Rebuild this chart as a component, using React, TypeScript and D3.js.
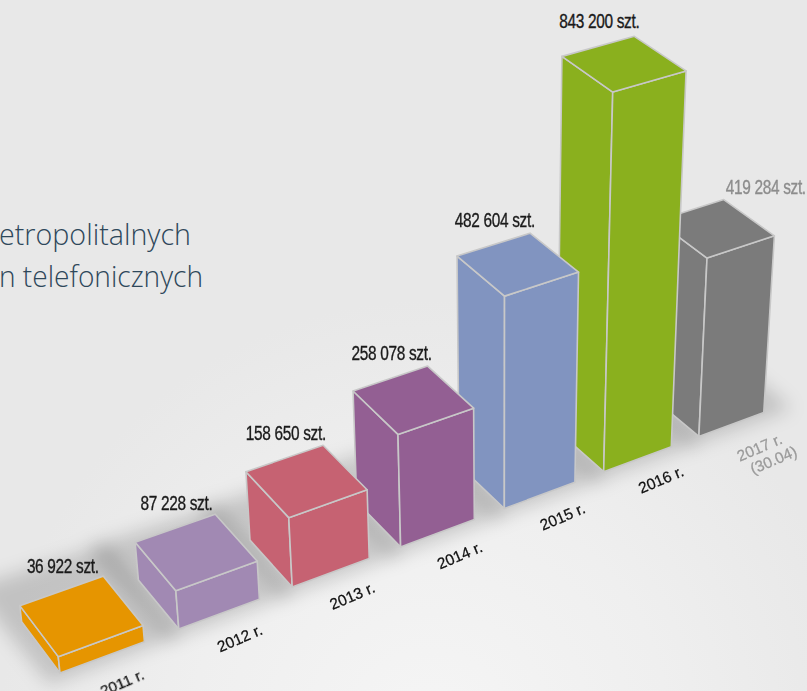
import React from 'react';
import * as d3 from 'd3';

// ---------- data ----------
const years = ['2011 r.', '2012 r.', '2013 r.', '2014 r.', '2015 r.', '2016 r.', '2017 r.'];
const yearSub = ['', '', '', '', '', '', '(30.04)'];
const values = [36922, 87228, 158650, 258078, 482604, 843200, 419284];
const partialYear = [false, false, false, false, false, false, true];
const colors = ['#E69500', '#A189B3', '#C66272', '#935F93', '#8194C0', '#8AB01E', '#7B7B7B'];
const titleLines = ['etropolitalnych', 'n telefonicznych'];

// ---------- layout / camera ----------
const W = 807;
const H = 691;
const cam = { cx: 596, cy: 241, f: 2673 };
const vpRow: [number, number] = [5200, -1230];
const vpBack: [number, number] = [-1470, -1370];
const originImg: [number, number] = [60, 673];
const originDepth = 10;

type V3 = [number, number, number];
function dir(vp: [number, number]): V3 {
  const v: V3 = [(vp[0] - cam.cx) / cam.f, (vp[1] - cam.cy) / cam.f, 1];
  const n = Math.hypot(v[0], v[1], v[2]);
  return [v[0] / n, v[1] / n, v[2] / n];
}
const rowD = dir(vpRow);
const backD = dir(vpBack);
let upD: V3 = [
  rowD[1] * backD[2] - rowD[2] * backD[1],
  rowD[2] * backD[0] - rowD[0] * backD[2],
  rowD[0] * backD[1] - rowD[1] * backD[0],
];
{
  const n = Math.hypot(upD[0], upD[1], upD[2]);
  upD = [upD[0] / n, upD[1] / n, upD[2] / n];
  if (upD[1] > 0) upD = [-upD[0], -upD[1], -upD[2]];
}
const O: V3 = [
  ((originImg[0] - cam.cx) / cam.f) * originDepth,
  ((originImg[1] - cam.cy) / cam.f) * originDepth,
  originDepth,
];
function project(a: number, b: number, c: number): [number, number] {
  const X = O[0] + a * rowD[0] + b * backD[0] + c * upD[0];
  const Y = O[1] + a * rowD[1] + b * backD[1] + c * upD[1];
  const Z = O[2] + a * rowD[2] + b * backD[2] + c * upD[2];
  return [cam.cx + (cam.f * X) / Z, cam.cy + (cam.f * Y) / Z];
}

const xScale = d3.scaleBand<string>().domain(years).range([0, 3.278]).paddingInner(0.294).paddingOuter(0);
const hScale = d3.scaleLinear().domain([0, 843200]).range([0, 1.7834]);
const depth = 0.36;

const poly = d3
  .line<[number, number]>()
  .x((p) => p[0])
  .y((p) => p[1])
  .curve(d3.curveLinearClosed);

const fmt = (v: number) => d3.format(',')(v).replace(/,/g, ' ') + ' szt.';

export default function App() {
  const w = xScale.bandwidth();
  const idx = d3.range(years.length).reverse();
  const edge = '#c8c8c8';

  return (
    <svg
      width={W}
      height={H}
      style={{ position: 'absolute', left: 0, top: 0, display: 'block' }}
      xmlns="http://www.w3.org/2000/svg"
    >
      <defs>
        <radialGradient id="floor" cx="430" cy="730" r="430" gradientUnits="userSpaceOnUse">
          <stop offset="0" stopColor="#f5f5f5" />
          <stop offset="0.55" stopColor="#efefef" />
          <stop offset="1" stopColor="#e8e8e8" />
        </radialGradient>
        <filter id="blur" x="-50%" y="-50%" width="200%" height="200%">
          <feGaussianBlur stdDeviation="9" />
        </filter>
      </defs>
      <rect x={0} y={0} width={W} height={H} fill="#e8e8e8" />
      <rect x={0} y={0} width={W} height={H} fill="url(#floor)" />

      {/* title (cut at left edge) */}
      <g fill="#2e475a" fontFamily="'Open Sans', 'Noto Sans', sans-serif" fontWeight={300} fontSize={29}>
        <text x={-1} y={245} textLength={192} lengthAdjust="spacingAndGlyphs">
          {titleLines[0]}
        </text>
        <text x={-1} y={287} textLength={204} lengthAdjust="spacingAndGlyphs">
          {titleLines[1]}
        </text>
      </g>

      {/* floor shadows */}
      <g filter="url(#blur)">
        {idx.map((i) => {
          const x0 = xScale(years[i]) as number;
          const pts: [number, number][] = [
            project(x0 - 0.06, -0.04, 0),
            project(x0 + w + 0.12, -0.04, 0),
            project(x0 + w + 0.14, depth + 0.28, 0),
            project(x0 - 0.08, depth + 0.3, 0),
          ];
          return <path key={'s' + i} d={poly(pts) as string} fill="#000" opacity={0.16} />;
        })}
      </g>

      {/* bars, back to front */}
      {idx.map((i) => {
        const x0 = xScale(years[i]) as number;
        const h = hScale(values[i]);
        const fl0 = project(x0, 0, 0);
        const fr0 = project(x0 + w, 0, 0);
        const bl0 = project(x0, depth, 0);
        const fl1 = project(x0, 0, h);
        const fr1 = project(x0 + w, 0, h);
        const bl1 = project(x0, depth, h);
        const br1 = project(x0 + w, depth, h);
        return (
          <g key={'b' + i} stroke={edge} strokeWidth={1.6} strokeLinejoin="round" fill={colors[i]}>
            <path d={poly([bl0, fl0, fl1, bl1]) as string} />
            <path d={poly([fl0, fr0, fr1, fl1]) as string} />
            <path d={poly([fl1, fr1, br1, bl1]) as string} />
          </g>
        );
      })}

      {/* value labels */}
      {idx.map((i) => {
        const x0 = xScale(years[i]) as number;
        const h = hScale(values[i]);
        const partial = partialYear[i];
        const p = partial ? project(x0 + w, depth, h) : project(x0 + w / 2, depth, h);
        const tx = partial ? p[0] + 2 : p[0] + 1;
        const ty = partial ? p[1] - 6 : p[1] - 18;
        const col = partial ? '#8c8c8c' : '#1a1a1a';
        return (
          <text
            key={'v' + i}
            transform={`translate(${tx},${ty}) scale(0.79,1)`}
            textAnchor={partial ? 'start' : 'middle'}
            fontFamily="'Liberation Sans', Arial, sans-serif"
            fontSize={19.5}
            letterSpacing={-0.4}
            fill={col}
            stroke={col}
            strokeWidth={0.35}
          >
            {fmt(values[i])}
          </text>
        );
      })}

      {/* year labels */}
      {idx.map((i) => {
        const x0 = xScale(years[i]) as number;
        const partial = partialYear[i];
        const p = project(x0 + w * 0.5, partial ? -0.2 : -0.17, 0);
        const col = partial ? '#9a9a9a' : '#111';
        return (
          <text
            key={'y' + i}
            transform={`translate(${p[0]},${p[1]}) rotate(-23)`}
            textAnchor="middle"
            dominantBaseline="central"
            fontFamily="'Liberation Sans', Arial, sans-serif"
            fontSize={15.5}
            fill={col}
            stroke={col}
            strokeWidth={0.25}
          >
            <tspan x={0} dy={0}>
              {years[i]}
            </tspan>
            {yearSub[i] ? (
              <tspan x={8} dy={17}>
                {yearSub[i]}
              </tspan>
            ) : null}
          </text>
        );
      })}
    </svg>
  );
}
